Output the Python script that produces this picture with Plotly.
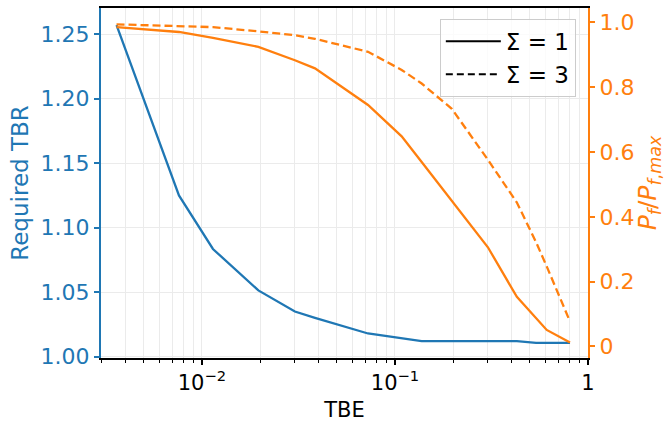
import plotly.graph_objects as go

# ---- data ----
tbe = [0.00361, 0.0076, 0.0114, 0.0196, 0.0303, 0.0385, 0.0725, 0.1083, 0.1375,
       0.197, 0.303, 0.428, 0.538, 0.611, 0.807]
tbr_sigma1 = [1.257, 1.125, 1.0835, 1.0514, 1.0350, 1.0301, 1.018, 1.0143, 1.0121,
              1.0121, 1.0121, 1.0121, 1.0108, 1.0108, 1.0108]
pf_sigma1 = [0.985, 0.970, 0.952, 0.924, 0.883, 0.858, 0.745, 0.648, 0.569,
             0.449, 0.306, 0.153, 0.088, 0.051, 0.012]
pf_sigma3 = [0.9936, 0.988, 0.985, 0.972, 0.960, 0.949, 0.909, 0.853, 0.811,
             0.733, 0.576, 0.444, 0.322, 0.247, 0.077]

x_tickvals = [0.01, 0.1, 1]
x_ticktext = ["10<sup>\u22122</sup>", "10<sup>\u22121</sup>", "1"]
y_tickvals = [1.00, 1.05, 1.10, 1.15, 1.20, 1.25]
y2_tickvals = [0, 0.2, 0.4, 0.6, 0.8, 1.0]
y2_ticktext = ["0", "0.2", "0.4", "0.6", "0.8", "1.0"]
legend_labels = ["\u03a3 = 1", "\u03a3 = 3"]

BLUE = "#1f77b4"
ORANGE = "#ff7f0e"
GRID = "#ebebeb"
FONT = "DejaVu Sans"

minor_vals = [k * 10.0 ** e for e in (-3, -2, -1) for k in range(2, 10)]

fig = go.Figure()
fig.add_trace(go.Scatter(x=tbe, y=tbr_sigma1, mode="lines",
                         line=dict(color=BLUE, width=2.3), showlegend=False, yaxis="y"))
fig.add_trace(go.Scatter(x=tbe, y=pf_sigma1, mode="lines",
                         line=dict(color=ORANGE, width=2.3), showlegend=False, yaxis="y2"))
fig.add_trace(go.Scatter(x=tbe, y=pf_sigma3, mode="lines",
                         line=dict(color=ORANGE, width=2.3, dash="8px,4px"),
                         showlegend=False, yaxis="y2"))
# legend-only entries
fig.add_trace(go.Scatter(x=[None], y=[None], mode="lines", name=legend_labels[0],
                         line=dict(color="black", width=2), yaxis="y"))
fig.add_trace(go.Scatter(x=[None], y=[None], mode="lines", name=legend_labels[1],
                         line=dict(color="black", width=2, dash="7px,4px"), yaxis="y"))

fig.update_layout(
    width=665, height=425,
    margin=dict(l=101, r=77, t=6, b=67),
    paper_bgcolor="white", plot_bgcolor="white",
    font=dict(family=FONT, size=22, color="black"),
    xaxis=dict(
        type="log", range=[-2.523, 0.0],
        tickmode="array", tickvals=x_tickvals, ticktext=x_ticktext,
        ticks="outside", ticklen=5, tickwidth=1.5, tickcolor="black",
        showline=True, linecolor="black", linewidth=2, mirror=True,
        showgrid=True, gridcolor=GRID, gridwidth=1,
        minor=dict(tickmode="array", tickvals=minor_vals, ticks="outside",
                   ticklen=3, tickwidth=1, tickcolor="black",
                   showgrid=True, gridcolor=GRID, gridwidth=1),
        title=dict(text="TBE", font=dict(size=21, color="black"), standoff=8),
        tickfont=dict(size=21, color="black"),
        zeroline=False,
    ),
    yaxis=dict(
        range=[0.999, 1.2703],
        tickmode="array", tickvals=y_tickvals, tickformat=".2f",
        ticks="outside", ticklen=5, tickwidth=1.5, tickcolor=BLUE,
        showline=True, linecolor=BLUE, linewidth=2,
        showgrid=True, gridcolor=GRID, gridwidth=1,
        tickfont=dict(size=22, color=BLUE),
        title=dict(text="Required TBR", font=dict(size=23, color=BLUE), standoff=6),
        zeroline=False,
    ),
    yaxis2=dict(
        overlaying="y", side="right",
        range=[-0.0355, 1.044],
        tickmode="array", tickvals=y2_tickvals, ticktext=y2_ticktext,
        ticks="outside", ticklen=5, tickwidth=1.5, tickcolor=ORANGE,
        showline=True, linecolor=ORANGE, linewidth=2,
        showgrid=False,
        tickfont=dict(size=22, color=ORANGE),
        title=dict(text="<i>P</i><sub><i>f</i></sub>/<i>P</i><sub><i>f</i>,<i>max</i></sub>",
                   font=dict(size=25, color=ORANGE), standoff=4),
        zeroline=False,
    ),
    legend=dict(
        x=0.975, xanchor="right", y=0.969, yanchor="top",
        bgcolor="rgba(255,255,255,0.8)", bordercolor="#cccccc", borderwidth=1,
        font=dict(size=23, color="black"),
        itemwidth=55, tracegroupgap=0,
    ),
)

fig.write_html("out.html")
